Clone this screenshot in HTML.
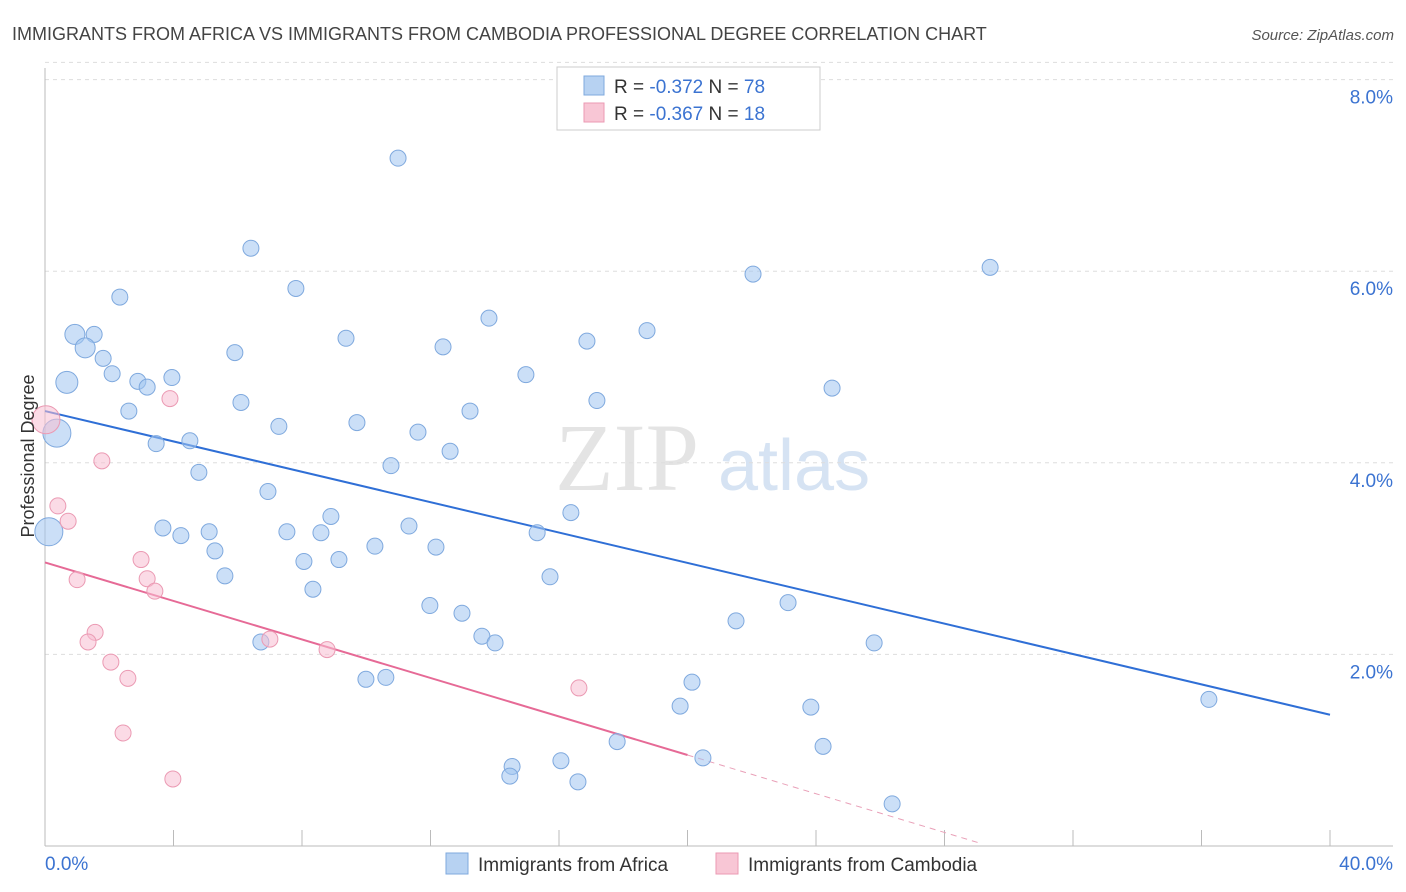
<!DOCTYPE html>
<html><head><meta charset="utf-8"><style>
body{margin:0;background:#fff;font-family:"Liberation Sans",sans-serif;}
svg{display:block}
</style></head><body>
<svg id="chart" width="1406" height="892" xmlns="http://www.w3.org/2000/svg">
<text x="12" y="40" font-size="18" fill="#444">IMMIGRANTS FROM AFRICA VS IMMIGRANTS FROM CAMBODIA PROFESSIONAL DEGREE CORRELATION CHART</text>
<text x="1394" y="40" font-size="15" fill="#555" text-anchor="end" font-style="italic">Source: ZipAtlas.com</text>
<text x="555" y="490" font-size="96" fill="#e4e4e4" font-family="Liberation Serif">ZIP</text>
<text x="718" y="490" font-size="72" fill="#d6e3f3">atlas</text>
<g id="grid"></g>
<g id="axes"></g>
<g id="lines"></g>
<g id="pts"></g>
<text transform="translate(34,456) rotate(-90)" font-size="18" fill="#333" text-anchor="middle">Professional Degree</text>
<g>
<rect x="557" y="67" width="263" height="63" fill="#fff" stroke="#ccc"/>
<rect x="584" y="76" width="20" height="19" fill="#b7d2f2" stroke="#7fa9de"/>
<rect x="584" y="103" width="20" height="19" fill="#f8c6d5" stroke="#eb9ab3"/>
<text x="614" y="93" font-size="19" fill="#333">R = <tspan fill="#3b73d1">-0.372</tspan>    N = <tspan fill="#3b73d1">78</tspan></text>
<text x="614" y="120" font-size="19" fill="#333">R = <tspan fill="#3b73d1">-0.367</tspan>    N = <tspan fill="#3b73d1"> 18</tspan></text>
</g>
<g>
<rect x="446" y="853" width="22" height="21" fill="#b7d2f2" stroke="#7fa9de"/>
<text x="478" y="871" font-size="19" fill="#333">Immigrants from Africa</text>
<rect x="716" y="853" width="22" height="21" fill="#f8c6d5" stroke="#eb9ab3"/>
<text x="748" y="871" font-size="19" fill="#333">Immigrants from Cambodia</text>
</g>
</svg>
<script>
const yTicks=[2,4,6,8];
const yTickLabels=["2.0%","4.0%","6.0%","8.0%"];
const xTicks=[0,4,8,12,16,20,24,28,32,36,40];
const africaX=[10.99,6.41,2.33,7.81,0.93,1.53,1.25,1.81,2.09,0.68,2.89,3.18,3.95,5.91,9.37,12.39,13.82,16.87,18.74,22.04,29.42,14.97,17.18,24.5,2.61,6.1,0.37,3.46,4.51,7.28,9.71,13.23,11.61,12.61,4.79,10.77,6.94,8.9,16.37,3.67,4.23,5.11,7.53,8.59,11.33,15.32,5.29,10.27,12.17,8.06,9.15,0.12,5.6,15.72,8.34,11.98,12.98,23.13,21.51,13.6,14.01,6.72,25.81,9.99,10.61,20.14,19.77,23.84,36.23,17.81,24.22,16.06,20.48,14.54,14.47,16.59,26.37];
const africaY=[7.18,6.24,5.73,5.82,5.34,5.34,5.2,5.09,4.93,4.84,4.85,4.79,4.89,5.15,5.3,5.21,5.51,5.27,5.38,5.97,6.04,4.92,4.65,4.78,4.54,4.63,4.31,4.2,4.23,4.38,4.42,4.54,4.32,4.12,3.9,3.97,3.7,3.44,3.48,3.32,3.24,3.28,3.28,3.27,3.34,3.27,3.08,3.13,3.12,2.97,2.99,3.28,2.82,2.81,2.68,2.51,2.43,2.54,2.35,2.19,2.12,2.13,2.12,1.74,1.76,1.71,1.46,1.45,1.53,1.09,1.04,0.89,0.92,0.83,0.73,0.67,0.44];
const africaBig=[0,0,0,0,1,0,1,0,0,2,0,0,0,0,0,0,0,0,0,0,0,0,0,0,0,0,3,0,0,0,0,0,0,0,0,0,0,0,0,0,0,0,0,0,0,0,0,0,0,0,0,3,0,0,0,0,0,0,0,0,0,0,0,0,0,0,0,0,0,0,0,0,0,0,0,0,0];
const cambX=[17.21,0.03,3.89,1.77,0.4,0.72,2.99,3.18,3.42,1.0,1.56,1.34,2.05,2.58,7.0,8.78,16.62,2.43,3.98];
const cambY=[7.76,4.45,4.67,4.02,3.55,3.39,2.99,2.79,2.66,2.78,2.23,2.13,1.92,1.75,2.16,2.05,1.65,1.18,0.7];
const africaTrend=[4.54,1.37];
const cambTrend=[2.96,0.95];
const cambTrendExtEnd=[29.1,0.03];

const NS="http://www.w3.org/2000/svg";
const X=v=>45+v*32.125, Y=v=>846-v*95.8;
function mk(p,t,a){const e=document.createElementNS(NS,t);for(const k in a)e.setAttribute(k,a[k]);document.getElementById(p).appendChild(e);return e;}
yTicks.forEach((t,i)=>{
 const g=mk('grid','line',{x1:45,x2:1393,y1:Y(t),y2:Y(t),stroke:'#ddd','stroke-dasharray':'4,4'});
 
 
 const l=mk('grid','text',{x:1393,y:Y(t)+24,'font-size':19,fill:'#3b73d1','text-anchor':'end'});
 l.textContent=yTickLabels[i];
 
 
});
mk('grid','line',{x1:45,x2:1393,y1:Y(8.18),y2:Y(8.18),stroke:'#ddd','stroke-dasharray':'4,4'});
const ax=mk('axes','line',{x1:45,x2:45,y1:68,y2:846,stroke:'#bbb'});


const bx=mk('axes','line',{x1:45,x2:1393,y1:846,y2:846,stroke:'#bbb'});


xTicks.forEach(t=>{
 const e=mk('axes','line',{x1:X(t),x2:X(t),y1:830,y2:846,stroke:'#bbb'});
 
 
});
const xl0=mk('axes','text',{x:45,y:870,'font-size':19,fill:'#3b73d1'});xl0.textContent='0.0%';


const xl1=mk('axes','text',{x:1393,y:870,'font-size':19,fill:'#3b73d1','text-anchor':'end'});xl1.textContent='40.0%';


africaX.forEach((x,i)=>{
 const r=[8,10,11,14][africaBig[i]];
 const c=mk('pts','circle',{cx:X(x),cy:Y(africaY[i]),r:r,fill:'rgba(160,196,240,0.55)',stroke:'#7fa9de','stroke-width':1});
 
 
});
cambX.forEach((x,i)=>{
 const c=mk('pts','circle',{cx:X(x),cy:Y(cambY[i]),r:i==1?14:8,fill:'rgba(248,190,210,0.55)',stroke:'#eb9ab3','stroke-width':1});
 
 
});
const tl=mk('lines','line',{x1:X(0),y1:Y(africaTrend[0]),x2:X(40),y2:Y(africaTrend[1]),stroke:'#2f6fd6','stroke-width':2});


const tp=mk('lines','line',{x1:X(0),y1:Y(cambTrend[0]),x2:X(20),y2:Y(cambTrend[1]),stroke:'#e66a96','stroke-width':2});


const td=mk('lines','line',{x1:X(20),y1:Y(cambTrend[1]),x2:X(cambTrendExtEnd[0]),y2:Y(cambTrendExtEnd[1]),stroke:'#e9a0b8','stroke-width':1,'stroke-dasharray':'6,5'});


</script>
</body></html>
